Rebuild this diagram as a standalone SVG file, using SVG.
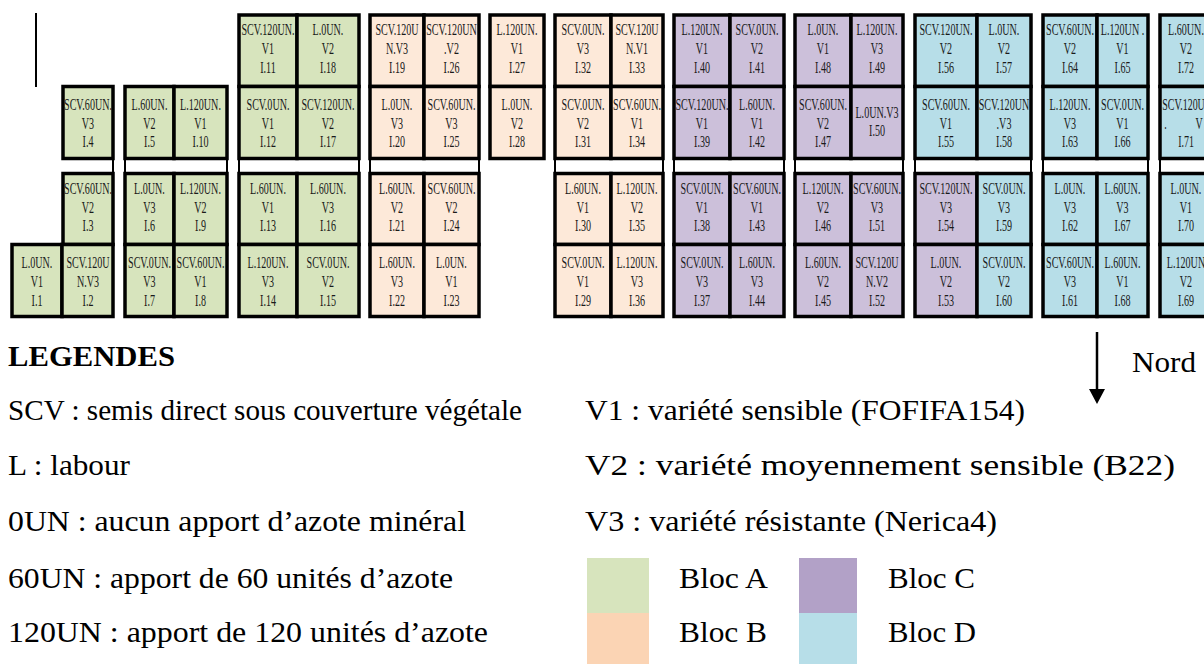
<svg xmlns="http://www.w3.org/2000/svg" width="1204" height="664" viewBox="0 0 1204 664">
<style>
.c{stroke:#000;stroke-width:3.5}
.A{fill:#D7E4BD}.B{fill:#FDE9D9}.C{fill:#CCC0DA}.D{fill:#B7DEE8}
.t{font-family:"Liberation Serif","Times New Roman",serif;font-size:16px;fill:#1a1a1a;text-anchor:middle}
.lg{font-family:"Liberation Serif","Times New Roman",serif;font-size:29.5px;fill:#000}
.gap{stroke:#000;stroke-width:2}
</style>
<rect width="1204" height="664" fill="#fff"/>
<line x1="36" y1="13" x2="36" y2="87" stroke="#000" stroke-width="2"/>

<g id="gaps">
<line class="gap" x1="113" y1="158" x2="113" y2="174"/>
<line class="gap" x1="125" y1="158" x2="125" y2="174"/><line class="gap" x1="227" y1="158" x2="227" y2="174"/>
<line class="gap" x1="239" y1="158" x2="239" y2="174"/><line class="gap" x1="359" y1="158" x2="359" y2="174"/>
<line class="gap" x1="370" y1="158" x2="370" y2="174"/><line class="gap" x1="479" y1="158" x2="479" y2="174"/>
<line class="gap" x1="555" y1="158" x2="555" y2="174"/><line class="gap" x1="663" y1="158" x2="663" y2="174"/>
<line class="gap" x1="674" y1="158" x2="674" y2="174"/><line class="gap" x1="784" y1="158" x2="784" y2="174"/>
<line class="gap" x1="795" y1="158" x2="795" y2="174"/><line class="gap" x1="903" y1="158" x2="903" y2="174"/>
<line class="gap" x1="915" y1="158" x2="915" y2="174"/><line class="gap" x1="1031" y1="158" x2="1031" y2="174"/>
<line class="gap" x1="1043" y1="158" x2="1043" y2="174"/><line class="gap" x1="1148" y1="158" x2="1148" y2="174"/>
<line class="gap" x1="1160" y1="158" x2="1160" y2="174"/>
</g>

<!-- column a / b -->
<g id="I1"><rect class="c A" x="12" y="244.5" width="50" height="72"/><text class="t" transform="translate(37 0) scale(.63 1)"><tspan x="0" y="268">L.0UN.</tspan><tspan x="0" y="287">V1</tspan><tspan x="0" y="306">I.1</tspan></text></g>
<g id="I4"><rect class="c A" x="63" y="86.5" width="50" height="72"/><text class="t" transform="translate(88 0) scale(.63 1)"><tspan x="0" y="110">SCV.60UN.</tspan><tspan x="0" y="129">V3</tspan><tspan x="0" y="147">I.4</tspan></text></g>
<g id="I3"><rect class="c A" x="63" y="173.5" width="50" height="71"/><text class="t" transform="translate(88 0) scale(.63 1)"><tspan x="0" y="194">SCV.60UN.</tspan><tspan x="0" y="213">V2</tspan><tspan x="0" y="231">I.3</tspan></text></g>
<g id="I2"><rect class="c A" x="62" y="244.5" width="51" height="72"/><text class="t" transform="translate(88 0) scale(.63 1)"><tspan x="0" y="268">SCV.120U</tspan><tspan x="0" y="287">N.V3</tspan><tspan x="0" y="306">I.2</tspan></text></g>

<!-- group 1 -->
<g id="I5"><rect class="c A" x="125" y="86.5" width="49" height="72"/><text class="t" transform="translate(149.5 0) scale(.63 1)"><tspan x="0" y="110">L.60UN.</tspan><tspan x="0" y="129">V2</tspan><tspan x="0" y="147">I.5</tspan></text></g>
<g id="I10"><rect class="c A" x="174" y="86.5" width="53" height="72"/><text class="t" transform="translate(200.5 0) scale(.63 1)"><tspan x="0" y="110">L.120UN.</tspan><tspan x="0" y="129">V1</tspan><tspan x="0" y="147">I.10</tspan></text></g>
<g id="I6"><rect class="c A" x="125" y="173.5" width="49" height="71"/><text class="t" transform="translate(149.5 0) scale(.63 1)"><tspan x="0" y="194">L.0UN.</tspan><tspan x="0" y="213">V3</tspan><tspan x="0" y="231">I.6</tspan></text></g>
<g id="I9"><rect class="c A" x="174" y="173.5" width="53" height="71"/><text class="t" transform="translate(200.5 0) scale(.63 1)"><tspan x="0" y="194">L.120UN.</tspan><tspan x="0" y="213">V2</tspan><tspan x="0" y="231">I.9</tspan></text></g>
<g id="I7"><rect class="c A" x="125" y="244.5" width="49" height="72"/><text class="t" transform="translate(149.5 0) scale(.63 1)"><tspan x="0" y="268">SCV.0UN.</tspan><tspan x="0" y="287">V3</tspan><tspan x="0" y="306">I.7</tspan></text></g>
<g id="I8"><rect class="c A" x="174" y="244.5" width="53" height="72"/><text class="t" transform="translate(200.5 0) scale(.63 1)"><tspan x="0" y="268">SCV.60UN.</tspan><tspan x="0" y="287">V1</tspan><tspan x="0" y="306">I.8</tspan></text></g>

<!-- group 2 -->
<g id="I11"><rect class="c A" x="239" y="15" width="58" height="71.5"/><text class="t" transform="translate(268 0) scale(.63 1)"><tspan x="0" y="35">SCV.120UN.</tspan><tspan x="0" y="54">V1</tspan><tspan x="0" y="73">I.11</tspan></text></g>
<g id="I18"><rect class="c A" x="297" y="15" width="62" height="71.5"/><text class="t" transform="translate(328 0) scale(.63 1)"><tspan x="0" y="35">L.0UN.</tspan><tspan x="0" y="54">V2</tspan><tspan x="0" y="73">I.18</tspan></text></g>
<g id="I12"><rect class="c A" x="239" y="86.5" width="58" height="72"/><text class="t" transform="translate(268 0) scale(.63 1)"><tspan x="0" y="110">SCV.0UN.</tspan><tspan x="0" y="129">V1</tspan><tspan x="0" y="147">I.12</tspan></text></g>
<g id="I17"><rect class="c A" x="297" y="86.5" width="62" height="72"/><text class="t" transform="translate(328 0) scale(.63 1)"><tspan x="0" y="110">SCV.120UN.</tspan><tspan x="0" y="129">V2</tspan><tspan x="0" y="147">I.17</tspan></text></g>
<g id="I13"><rect class="c A" x="239" y="173.5" width="58" height="71"/><text class="t" transform="translate(268 0) scale(.63 1)"><tspan x="0" y="194">L.60UN.</tspan><tspan x="0" y="213">V1</tspan><tspan x="0" y="231">I.13</tspan></text></g>
<g id="I16"><rect class="c A" x="297" y="173.5" width="62" height="71"/><text class="t" transform="translate(328 0) scale(.63 1)"><tspan x="0" y="194">L.60UN.</tspan><tspan x="0" y="213">V3</tspan><tspan x="0" y="231">I.16</tspan></text></g>
<g id="I14"><rect class="c A" x="239" y="244.5" width="58" height="72"/><text class="t" transform="translate(268 0) scale(.63 1)"><tspan x="0" y="268">L.120UN.</tspan><tspan x="0" y="287">V3</tspan><tspan x="0" y="306">I.14</tspan></text></g>
<g id="I15"><rect class="c A" x="297" y="244.5" width="62" height="72"/><text class="t" transform="translate(328 0) scale(.63 1)"><tspan x="0" y="268">SCV.0UN.</tspan><tspan x="0" y="287">V2</tspan><tspan x="0" y="306">I.15</tspan></text></g>

<!-- group 3 -->
<g id="I19"><rect class="c B" x="370" y="15" width="54" height="71.5"/><text class="t" transform="translate(397 0) scale(.63 1)"><tspan x="0" y="35">SCV.120U</tspan><tspan x="0" y="54">N.V3</tspan><tspan x="0" y="73">I.19</tspan></text></g>
<g id="I26"><rect class="c B" x="424" y="15" width="55" height="71.5"/><text class="t" transform="translate(451.5 0) scale(.63 1)"><tspan x="0" y="35">SCV.120UN</tspan><tspan x="0" y="54">.V2</tspan><tspan x="0" y="73">I.26</tspan></text></g>
<g id="I20"><rect class="c B" x="370" y="86.5" width="54" height="72"/><text class="t" transform="translate(397 0) scale(.63 1)"><tspan x="0" y="110">L.0UN.</tspan><tspan x="0" y="129">V3</tspan><tspan x="0" y="147">I.20</tspan></text></g>
<g id="I25"><rect class="c B" x="424" y="86.5" width="55" height="72"/><text class="t" transform="translate(451.5 0) scale(.63 1)"><tspan x="0" y="110">SCV.60UN.</tspan><tspan x="0" y="129">V3</tspan><tspan x="0" y="147">I.25</tspan></text></g>
<g id="I21"><rect class="c B" x="370" y="173.5" width="54" height="71"/><text class="t" transform="translate(397 0) scale(.63 1)"><tspan x="0" y="194">L.60UN.</tspan><tspan x="0" y="213">V2</tspan><tspan x="0" y="231">I.21</tspan></text></g>
<g id="I24"><rect class="c B" x="424" y="173.5" width="55" height="71"/><text class="t" transform="translate(451.5 0) scale(.63 1)"><tspan x="0" y="194">SCV.60UN.</tspan><tspan x="0" y="213">V2</tspan><tspan x="0" y="231">I.24</tspan></text></g>
<g id="I22"><rect class="c B" x="370" y="244.5" width="54" height="72"/><text class="t" transform="translate(397 0) scale(.63 1)"><tspan x="0" y="268">L.60UN.</tspan><tspan x="0" y="287">V3</tspan><tspan x="0" y="306">I.22</tspan></text></g>
<g id="I23"><rect class="c B" x="424" y="244.5" width="55" height="72"/><text class="t" transform="translate(451.5 0) scale(.63 1)"><tspan x="0" y="268">L.0UN.</tspan><tspan x="0" y="287">V1</tspan><tspan x="0" y="306">I.23</tspan></text></g>

<!-- group 4 -->
<g id="I27"><rect class="c B" x="490" y="15" width="54" height="71.5"/><text class="t" transform="translate(517 0) scale(.63 1)"><tspan x="0" y="35">L.120UN.</tspan><tspan x="0" y="54">V1</tspan><tspan x="0" y="73">I.27</tspan></text></g>
<g id="I28"><rect class="c B" x="490" y="86.5" width="54" height="72"/><text class="t" transform="translate(517 0) scale(.63 1)"><tspan x="0" y="110">L.0UN.</tspan><tspan x="0" y="129">V2</tspan><tspan x="0" y="147">I.28</tspan></text></g>

<!-- group 5 -->
<g id="I32"><rect class="c B" x="555" y="15" width="56" height="71.5"/><text class="t" transform="translate(583 0) scale(.63 1)"><tspan x="0" y="35">SCV.0UN.</tspan><tspan x="0" y="54">V3</tspan><tspan x="0" y="73">I.32</tspan></text></g>
<g id="I33"><rect class="c B" x="611" y="15" width="52" height="71.5"/><text class="t" transform="translate(637 0) scale(.63 1)"><tspan x="0" y="35">SCV.120U</tspan><tspan x="0" y="54">N.V1</tspan><tspan x="0" y="73">I.33</tspan></text></g>
<g id="I31"><rect class="c B" x="555" y="86.5" width="56" height="72"/><text class="t" transform="translate(583 0) scale(.63 1)"><tspan x="0" y="110">SCV.0UN.</tspan><tspan x="0" y="129">V2</tspan><tspan x="0" y="147">I.31</tspan></text></g>
<g id="I34"><rect class="c B" x="611" y="86.5" width="52" height="72"/><text class="t" transform="translate(637 0) scale(.63 1)"><tspan x="0" y="110">SCV.60UN.</tspan><tspan x="0" y="129">V1</tspan><tspan x="0" y="147">I.34</tspan></text></g>
<g id="I30"><rect class="c B" x="555" y="173.5" width="56" height="71"/><text class="t" transform="translate(583 0) scale(.63 1)"><tspan x="0" y="194">L.60UN.</tspan><tspan x="0" y="213">V1</tspan><tspan x="0" y="231">I.30</tspan></text></g>
<g id="I35"><rect class="c B" x="611" y="173.5" width="52" height="71"/><text class="t" transform="translate(637 0) scale(.63 1)"><tspan x="0" y="194">L.120UN.</tspan><tspan x="0" y="213">V2</tspan><tspan x="0" y="231">I.35</tspan></text></g>
<g id="I29"><rect class="c B" x="555" y="244.5" width="56" height="72"/><text class="t" transform="translate(583 0) scale(.63 1)"><tspan x="0" y="268">SCV.0UN.</tspan><tspan x="0" y="287">V1</tspan><tspan x="0" y="306">I.29</tspan></text></g>
<g id="I36"><rect class="c B" x="611" y="244.5" width="52" height="72"/><text class="t" transform="translate(637 0) scale(.63 1)"><tspan x="0" y="268">L.120UN.</tspan><tspan x="0" y="287">V3</tspan><tspan x="0" y="306">I.36</tspan></text></g>

<!-- group 6 -->
<g id="I40"><rect class="c C" x="674" y="15" width="56" height="71.5"/><text class="t" transform="translate(702 0) scale(.63 1)"><tspan x="0" y="35">L.120UN.</tspan><tspan x="0" y="54">V1</tspan><tspan x="0" y="73">I.40</tspan></text></g>
<g id="I41"><rect class="c C" x="730" y="15" width="54" height="71.5"/><text class="t" transform="translate(757 0) scale(.63 1)"><tspan x="0" y="35">SCV.0UN.</tspan><tspan x="0" y="54">V2</tspan><tspan x="0" y="73">I.41</tspan></text></g>
<g id="I39"><rect class="c C" x="674" y="86.5" width="56" height="72"/><text class="t" transform="translate(702 0) scale(.63 1)"><tspan x="0" y="110">SCV.120UN.</tspan><tspan x="0" y="129">V1</tspan><tspan x="0" y="147">I.39</tspan></text></g>
<g id="I42"><rect class="c C" x="730" y="86.5" width="54" height="72"/><text class="t" transform="translate(757 0) scale(.63 1)"><tspan x="0" y="110">L.60UN.</tspan><tspan x="0" y="129">V1</tspan><tspan x="0" y="147">I.42</tspan></text></g>
<g id="I38"><rect class="c C" x="674" y="173.5" width="56" height="71"/><text class="t" transform="translate(702 0) scale(.63 1)"><tspan x="0" y="194">SCV.0UN.</tspan><tspan x="0" y="213">V1</tspan><tspan x="0" y="231">I.38</tspan></text></g>
<g id="I43"><rect class="c C" x="730" y="173.5" width="54" height="71"/><text class="t" transform="translate(757 0) scale(.63 1)"><tspan x="0" y="194">SCV.60UN.</tspan><tspan x="0" y="213">V1</tspan><tspan x="0" y="231">I.43</tspan></text></g>
<g id="I37"><rect class="c C" x="674" y="244.5" width="56" height="72"/><text class="t" transform="translate(702 0) scale(.63 1)"><tspan x="0" y="268">SCV.0UN.</tspan><tspan x="0" y="287">V3</tspan><tspan x="0" y="306">I.37</tspan></text></g>
<g id="I44"><rect class="c C" x="730" y="244.5" width="54" height="72"/><text class="t" transform="translate(757 0) scale(.63 1)"><tspan x="0" y="268">L.60UN.</tspan><tspan x="0" y="287">V3</tspan><tspan x="0" y="306">I.44</tspan></text></g>

<!-- group 7 -->
<g id="I48"><rect class="c C" x="795" y="15" width="56" height="71.5"/><text class="t" transform="translate(823 0) scale(.63 1)"><tspan x="0" y="35">L.0UN.</tspan><tspan x="0" y="54">V1</tspan><tspan x="0" y="73">I.48</tspan></text></g>
<g id="I49"><rect class="c C" x="851" y="15" width="52" height="71.5"/><text class="t" transform="translate(877 0) scale(.63 1)"><tspan x="0" y="35">L.120UN.</tspan><tspan x="0" y="54">V3</tspan><tspan x="0" y="73">I.49</tspan></text></g>
<g id="I47"><rect class="c C" x="795" y="86.5" width="56" height="72"/><text class="t" transform="translate(823 0) scale(.63 1)"><tspan x="0" y="110">SCV.60UN.</tspan><tspan x="0" y="129">V2</tspan><tspan x="0" y="147">I.47</tspan></text></g>
<g id="I50"><rect class="c C" x="851" y="86.5" width="52" height="72"/><text class="t" transform="translate(877 0) scale(.63 1)"><tspan x="0" y="118">L.0UN.V3</tspan><tspan x="0" y="136">I.50</tspan></text></g>
<g id="I46"><rect class="c C" x="795" y="173.5" width="56" height="71"/><text class="t" transform="translate(823 0) scale(.63 1)"><tspan x="0" y="194">L.120UN.</tspan><tspan x="0" y="213">V2</tspan><tspan x="0" y="231">I.46</tspan></text></g>
<g id="I51"><rect class="c C" x="851" y="173.5" width="52" height="71"/><text class="t" transform="translate(877 0) scale(.63 1)"><tspan x="0" y="194">SCV.60UN.</tspan><tspan x="0" y="213">V3</tspan><tspan x="0" y="231">I.51</tspan></text></g>
<g id="I45"><rect class="c C" x="795" y="244.5" width="56" height="72"/><text class="t" transform="translate(823 0) scale(.63 1)"><tspan x="0" y="268">L.60UN.</tspan><tspan x="0" y="287">V2</tspan><tspan x="0" y="306">I.45</tspan></text></g>
<g id="I52"><rect class="c C" x="851" y="244.5" width="52" height="72"/><text class="t" transform="translate(877 0) scale(.63 1)"><tspan x="0" y="268">SCV.120U</tspan><tspan x="0" y="287">N.V2</tspan><tspan x="0" y="306">I.52</tspan></text></g>

<!-- group 8 -->
<g id="I56"><rect class="c D" x="915" y="15" width="62" height="71.5"/><text class="t" transform="translate(946 0) scale(.63 1)"><tspan x="0" y="35">SCV.120UN.</tspan><tspan x="0" y="54">V2</tspan><tspan x="0" y="73">I.56</tspan></text></g>
<g id="I57"><rect class="c D" x="977" y="15" width="54" height="71.5"/><text class="t" transform="translate(1004 0) scale(.63 1)"><tspan x="0" y="35">L.0UN.</tspan><tspan x="0" y="54">V2</tspan><tspan x="0" y="73">I.57</tspan></text></g>
<g id="I55"><rect class="c D" x="915" y="86.5" width="62" height="72"/><text class="t" transform="translate(946 0) scale(.63 1)"><tspan x="0" y="110">SCV.60UN.</tspan><tspan x="0" y="129">V1</tspan><tspan x="0" y="147">I.55</tspan></text></g>
<g id="I58"><rect class="c D" x="977" y="86.5" width="54" height="72"/><text class="t" transform="translate(1004 0) scale(.63 1)"><tspan x="0" y="110">SCV.120UN</tspan><tspan x="0" y="129">.V3</tspan><tspan x="0" y="147">I.58</tspan></text></g>
<g id="I54"><rect class="c C" x="915" y="173.5" width="62" height="71"/><text class="t" transform="translate(946 0) scale(.63 1)"><tspan x="0" y="194">SCV.120UN.</tspan><tspan x="0" y="213">V3</tspan><tspan x="0" y="231">I.54</tspan></text></g>
<g id="I59"><rect class="c D" x="977" y="173.5" width="54" height="71"/><text class="t" transform="translate(1004 0) scale(.63 1)"><tspan x="0" y="194">SCV.0UN.</tspan><tspan x="0" y="213">V3</tspan><tspan x="0" y="231">I.59</tspan></text></g>
<g id="I53"><rect class="c C" x="915" y="244.5" width="62" height="72"/><text class="t" transform="translate(946 0) scale(.63 1)"><tspan x="0" y="268">L.0UN.</tspan><tspan x="0" y="287">V2</tspan><tspan x="0" y="306">I.53</tspan></text></g>
<g id="I60"><rect class="c D" x="977" y="244.5" width="54" height="72"/><text class="t" transform="translate(1004 0) scale(.63 1)"><tspan x="0" y="268">SCV.0UN.</tspan><tspan x="0" y="287">V2</tspan><tspan x="0" y="306">I.60</tspan></text></g>

<!-- group 9 -->
<g id="I64"><rect class="c D" x="1043" y="15" width="54" height="71.5"/><text class="t" transform="translate(1070 0) scale(.63 1)"><tspan x="0" y="35">SCV.60UN.</tspan><tspan x="0" y="54">V2</tspan><tspan x="0" y="73">I.64</tspan></text></g>
<g id="I65"><rect class="c D" x="1097" y="15" width="51" height="71.5"/><text class="t" transform="translate(1122.5 0) scale(.63 1)"><tspan x="0" y="35">L.120UN .</tspan><tspan x="0" y="54">V1</tspan><tspan x="0" y="73">I.65</tspan></text></g>
<g id="I63"><rect class="c D" x="1043" y="86.5" width="54" height="72"/><text class="t" transform="translate(1070 0) scale(.63 1)"><tspan x="0" y="110">L.120UN.</tspan><tspan x="0" y="129">V3</tspan><tspan x="0" y="147">I.63</tspan></text></g>
<g id="I66"><rect class="c D" x="1097" y="86.5" width="51" height="72"/><text class="t" transform="translate(1122.5 0) scale(.63 1)"><tspan x="0" y="110">SCV.0UN.</tspan><tspan x="0" y="129">V1</tspan><tspan x="0" y="147">I.66</tspan></text></g>
<g id="I62"><rect class="c D" x="1043" y="173.5" width="54" height="71"/><text class="t" transform="translate(1070 0) scale(.63 1)"><tspan x="0" y="194">L.0UN.</tspan><tspan x="0" y="213">V3</tspan><tspan x="0" y="231">I.62</tspan></text></g>
<g id="I67"><rect class="c D" x="1097" y="173.5" width="51" height="71"/><text class="t" transform="translate(1122.5 0) scale(.63 1)"><tspan x="0" y="194">L.60UN.</tspan><tspan x="0" y="213">V3</tspan><tspan x="0" y="231">I.67</tspan></text></g>
<g id="I61"><rect class="c D" x="1043" y="244.5" width="54" height="72"/><text class="t" transform="translate(1070 0) scale(.63 1)"><tspan x="0" y="268">SCV.60UN.</tspan><tspan x="0" y="287">V3</tspan><tspan x="0" y="306">I.61</tspan></text></g>
<g id="I68"><rect class="c D" x="1097" y="244.5" width="51" height="72"/><text class="t" transform="translate(1122.5 0) scale(.63 1)"><tspan x="0" y="268">L.60UN.</tspan><tspan x="0" y="287">V1</tspan><tspan x="0" y="306">I.68</tspan></text></g>

<!-- group 10 (cut by right edge) -->
<g id="I72"><rect class="c D" x="1160" y="15" width="58" height="71.5"/><text class="t" transform="translate(1186 0) scale(.63 1)"><tspan x="0" y="35">L.60UN.</tspan><tspan x="0" y="54">V2</tspan><tspan x="0" y="73">I.72</tspan></text></g>
<g id="I71"><rect class="c D" x="1160" y="86.5" width="58" height="72"/><text class="t" transform="translate(1186 0) scale(.62 1)"><tspan x="-4" y="110">SCV.120U</tspan><tspan x="-33" y="129">.</tspan><tspan x="21" y="129">V</tspan><tspan x="0" y="147">I.71</tspan></text></g>
<g id="I70"><rect class="c D" x="1160" y="173.5" width="58" height="71"/><text class="t" transform="translate(1186 0) scale(.63 1)"><tspan x="0" y="194">L.0UN.</tspan><tspan x="0" y="213">V1</tspan><tspan x="0" y="231">I.70</tspan></text></g>
<g id="I69"><rect class="c D" x="1160" y="244.5" width="58" height="72"/><text class="t" transform="translate(1186 0) scale(.63 1)"><tspan x="0" y="268">L.120UN</tspan><tspan x="0" y="287">V2</tspan><tspan x="0" y="306">I.69</tspan></text></g>

<g id="connectors">
<line x1="1097" y1="332" x2="1097" y2="391" stroke="#000" stroke-width="2.5"/>
<polygon points="1089,389 1105,389 1097,404" fill="#000"/>
</g>
<text id="nord" class="lg" x="1132" y="372" textLength="64" lengthAdjust="spacingAndGlyphs">Nord</text>

<g id="legend">
<text class="lg" x="8" y="366" font-weight="bold" textLength="167" lengthAdjust="spacingAndGlyphs">LEGENDES</text>
<text class="lg" x="8" y="420" textLength="514" lengthAdjust="spacingAndGlyphs">SCV : semis direct sous couverture végétale</text>
<text class="lg" x="8" y="475" textLength="122" lengthAdjust="spacingAndGlyphs">L : labour</text>
<text class="lg" x="8" y="531" textLength="458" lengthAdjust="spacingAndGlyphs">0UN : aucun apport d’azote minéral</text>
<text class="lg" x="8" y="588" textLength="445" lengthAdjust="spacingAndGlyphs">60UN : apport de 60 unités d’azote</text>
<text class="lg" x="8" y="642" textLength="480" lengthAdjust="spacingAndGlyphs">120UN : apport de 120 unités d’azote</text>
<text class="lg" x="585" y="420" textLength="440" lengthAdjust="spacingAndGlyphs">V1 : variété sensible (FOFIFA154)</text>
<text class="lg" x="585" y="475" textLength="590" lengthAdjust="spacingAndGlyphs">V2 : variété moyennement sensible (B22)</text>
<text class="lg" x="585" y="531" textLength="412" lengthAdjust="spacingAndGlyphs">V3 : variété résistante (Nerica4)</text>
<rect x="587" y="558" width="62" height="55" fill="#D7E4BD"/>
<rect x="587" y="613" width="62" height="51" fill="#FBD4B4"/>
<rect x="799" y="558" width="58" height="55" fill="#B2A1C7"/>
<rect x="799" y="613" width="58" height="51" fill="#B7DEE8"/>
<text class="lg" x="679" y="588" textLength="89" lengthAdjust="spacingAndGlyphs">Bloc A</text>
<text class="lg" x="679" y="642" textLength="88" lengthAdjust="spacingAndGlyphs">Bloc B</text>
<text class="lg" x="888" y="588" textLength="87" lengthAdjust="spacingAndGlyphs">Bloc C</text>
<text class="lg" x="888" y="642" textLength="88" lengthAdjust="spacingAndGlyphs">Bloc D</text>
</g>
</svg>
